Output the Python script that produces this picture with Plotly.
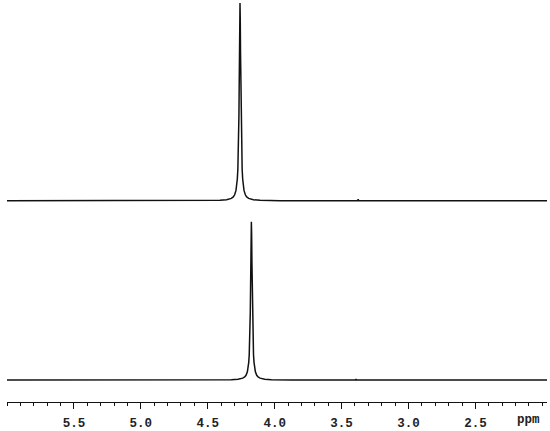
import plotly.graph_objects as go

# chemical shift axis (ppm)
x_range = [6.0, 1.965]
major_ticks = [5.5, 5.0, 4.5, 4.0, 3.5, 3.0, 2.5]

# peak positions / heights (top peak height = 1)
top_center = 4.259
top_height = 1.0
bottom_center = 4.174
bottom_height = 0.80

# small artefacts on the baselines
top_bump = [3.376, 0.008]
bottom_bump = [3.392, 0.005]

# half-profile of the line, distance from centre (ppm) vs fraction of height
profile_offset = [0.0, 0.002, 0.004, 0.006, 0.008, 0.010, 0.013, 0.016, 0.020,
                  0.025, 0.030, 0.040, 0.050, 0.065, 0.080, 0.100, 0.150, 0.250, 0.300]
profile_level = [1.0, 0.92, 0.75, 0.58, 0.43, 0.33, 0.22, 0.16, 0.11,
                 0.073, 0.052, 0.030, 0.019, 0.012, 0.008, 0.005, 0.002, 0.0008, 0.0]


def spectrum(center, height, bump):
    pts = [(6.05, 0.0), (1.90, 0.0),
           (bump[0] - 0.004, 0.0), (bump[0], bump[1]), (bump[0] + 0.004, 0.0)]
    for o, lv in zip(profile_offset, profile_level):
        pts.append((center - o, height * lv))
        if o > 0:
            pts.append((center + o, height * lv))
    pts.sort(key=lambda p: -p[0])
    return [p[0] for p in pts], [p[1] for p in pts]


fig = go.Figure()

bx, by = spectrum(bottom_center, bottom_height, bottom_bump)
tx, ty = spectrum(top_center, top_height, top_bump)

fig.add_trace(go.Scatter(x=bx, y=by, mode="lines", yaxis="y",
                         line={"color": "#111111", "width": 1.5},
                         showlegend=False, hoverinfo="skip"))
fig.add_trace(go.Scatter(x=tx, y=ty, mode="lines", yaxis="y2",
                         line={"color": "#111111", "width": 1.5},
                         showlegend=False, hoverinfo="skip"))

label_font = {"family": "Liberation Mono", "size": 12.5, "color": "#222222",
              "weight": "bold"}

fig.update_layout(
    width=550,
    height=431,
    margin={"l": 7, "r": 3, "t": 0, "b": 29},
    paper_bgcolor="white",
    plot_bgcolor="white",
    xaxis={
        "range": x_range,
        "anchor": "free",
        "position": 0,
        "showline": True,
        "linecolor": "#111111",
        "linewidth": 1,
        "showgrid": False,
        "zeroline": False,
        "ticks": "outside",
        "ticklen": 6,
        "tickwidth": 1,
        "tickcolor": "#111111",
        "tickvals": major_ticks,
        "tickformat": ".1f",
        "tickfont": label_font,
        "ticklabelstandoff": 3,
        "minor": {"dtick": 0.1, "tick0": 0, "ticks": "outside", "ticklen": 3,
                  "tickwidth": 1, "tickcolor": "#111111", "showgrid": False},
    },
    yaxis={"domain": [0.0301, 0.5540], "range": [-0.05, 1.015], "visible": False},
    yaxis2={"domain": [0.4761, 1.0], "range": [-0.05, 1.015], "visible": False,
            "anchor": "x"},
    annotations=[{
        "text": "ppm", "xref": "paper", "yref": "paper", "x": 0.965, "y": 0,
        "xanchor": "center", "yanchor": "middle", "yshift": -18,
        "showarrow": False, "font": label_font,
    }],
)

# page body has a default 8px margin; drop it so the figure fills the window
fig.write_html("out.html", config={"displayModeBar": False},
               post_script="document.body.style.margin = '0';")
